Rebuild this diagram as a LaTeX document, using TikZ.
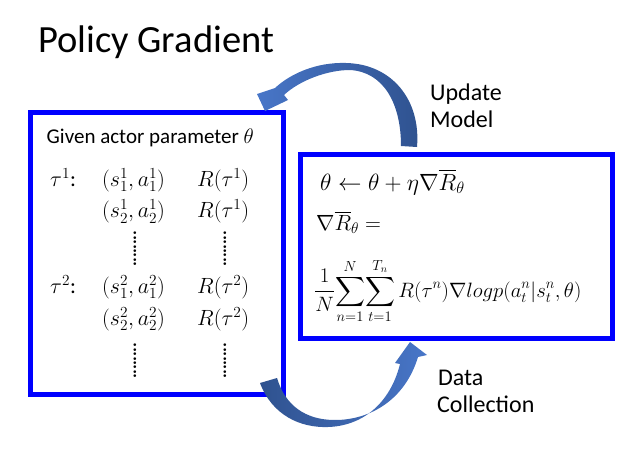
\RequirePackage{fix-cm}
\documentclass[tikz,border=0pt]{standalone}
\usepackage{exscale}
\usepackage[no-math]{fontspec}
\setmainfont{Carlito}
\definecolor{boxblue}{RGB}{0,0,255}
\definecolor{arrlight}{RGB}{72,118,200}
\definecolor{arrdark}{RGB}{47,82,143}
\newcommand{\dotcol}{\vbox{\baselineskip=4.4pt\lineskiplimit=-100pt\lineskip=0pt
  \hbox{$.$}\hbox{$.$}\hbox{$.$}\hbox{$.$}\hbox{$.$}\hbox{$.$}\hbox{$.$}\hbox{$.$}}}
\begin{document}
\begin{tikzpicture}[x=1pt,y=-1pt,
  bluebox/.style={draw=boxblue, line width=5pt, rectangle, inner sep=0pt},
  lbl/.style={anchor=base west, inner sep=0pt, font=\fontsize{24}{28}\selectfont},
  mth/.style={anchor=base west, inner sep=0pt, font=\fontsize{22}{26}\selectfont},
  rmth/.style={anchor=base west, inner sep=0pt, font=\fontsize{23.5}{27}\selectfont},
  vd/.style={inner sep=0pt, font=\fontsize{28}{30}\selectfont},
  arrowbody/.style={draw=none}]
\useasboundingbox (0,0) rectangle (633,458);
% title
\node[anchor=base west, inner sep=0pt, font=\fontsize{38.5}{44}\selectfont] (title) at (38,52.7) {Policy Gradient};
% boxes
\node[bluebox, minimum width=253pt, minimum height=281.5pt] (actorbox) at (157,253.25) {};
\node[bluebox, minimum width=312.5pt, minimum height=184pt] (gradbox) at (456.25,246.5) {};
% left box contents
\node[anchor=base west, inner sep=0pt, font=\fontsize{21}{24}\selectfont] (given) at (46.5,143.3) {Given actor parameter $\theta$};
\node[mth] (tau1) at (50,186) {$\tau^1$:};
\node[mth] (sa11) at (102,186) {$(s_1^1,a_1^1)$};
\node[mth] (r11) at (197,186) {$R(\tau^1)$};
\node[mth] (sa12) at (102,217.7) {$(s_2^1,a_2^1)$};
\node[mth] (r12) at (197,217.7) {$R(\tau^1)$};
\node[vd] (vd1) at (135,249) {\dotcol};
\node[vd] (vd2) at (225,249) {\dotcol};
\node[mth] (tau2) at (50,293) {$\tau^2$:};
\node[mth] (sa21) at (102,293) {$(s_1^2,a_1^2)$};
\node[mth] (r21) at (197,293) {$R(\tau^2)$};
\node[mth] (sa22) at (102,325) {$(s_2^2,a_2^2)$};
\node[mth] (r22) at (197,325) {$R(\tau^2)$};
\node[vd] (vd3) at (135,361) {\dotcol};
\node[vd] (vd4) at (225,361) {\dotcol};
% right box contents
\node[rmth] (upd) at (320,190) {$\theta \leftarrow \theta + \eta\nabla\overline{R}_\theta$};
\node[mth] (gradR) at (316,230) {$\nabla\overline{R}_\theta =$};
\node[anchor=base west, inner sep=0pt, font=\fontsize{20.8}{24}\selectfont] (sumf) at (314,297) {$\displaystyle \frac{1}{N}\!\sum_{n=1}^{N}\!\sum_{t=1}^{T_n} R(\tau^n)\nabla logp(a_t^n|s_t^n,\theta)$};
% labels
\node[lbl] (update) at (430,100) {Update};
\node[lbl] (model) at (430,127.3) {Model};
\node[lbl] (data) at (438,385) {Data};
\node[lbl] (collection) at (437,412.3) {Collection};
% curved block arrows
\path[arrowbody, left color=arrlight, right color=arrdark]
  (401,146) -- (417,147) .. controls (421,100) and (392,64) .. (346,63)
  .. controls (316,62) and (290,74) .. (275,88)
  -- (257,94) -- (265,111) -- (288,100) -- (284,95)
  .. controls (300,80) and (328,70) .. (350,70)
  .. controls (384,72) and (401,104) .. (401,146) -- cycle;
\path[arrowbody, left color=arrdark, right color=arrlight]
  (260,383) .. controls (272,415) and (300,428) .. (328,427)
  .. controls (362,426) and (390,404) .. (400,364)
  -- (395,363) -- (410,342) -- (427,355) -- (418,357)
  .. controls (405,400) and (370,420) .. (335,420)
  .. controls (305,420) and (285,405) .. (277,378) -- cycle;
\end{tikzpicture}
\end{document}
